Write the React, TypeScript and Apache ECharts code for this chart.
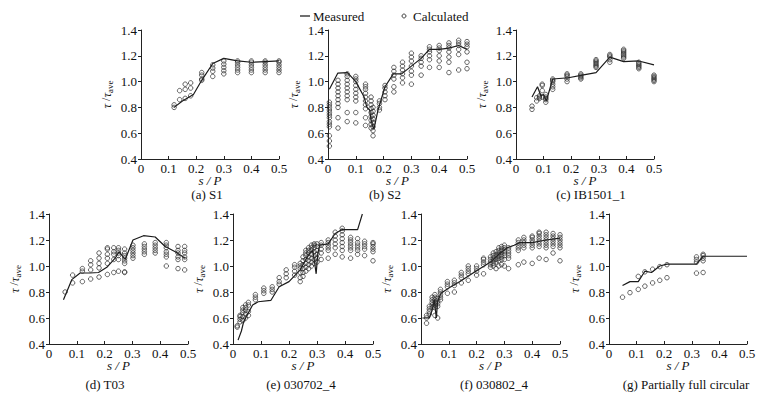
import React, { useEffect, useRef } from "react";
import * as echarts from "echarts";

const FONT = "'Liberation Serif', 'Times New Roman', serif";

// x tick labels 0..0.5, y tick labels 0.4..1.4
const xTicks = [0, 0.1, 0.2, 0.3, 0.4, 0.5];
const yTicks = [0.4, 0.6, 0.8, 1.0, 1.2, 1.4];

const panelTitles = [
  "(a) S1",
  "(b) S2",
  "(c) IB1501_1",
  "(d) T03",
  "(e) 030702_4",
  "(f) 030802_4",
  "(g) Partially full circular",
];

// Measured lines [s/P, tau/tau_ave]
const measA = [[0.12, 0.8], [0.15, 0.85], [0.19, 0.9], [0.22, 1.01], [0.26, 1.14], [0.3, 1.18], [0.35, 1.16], [0.4, 1.15], [0.45, 1.155], [0.5, 1.16]];
const measB = [[0.005, 0.94], [0.035, 1.065], [0.07, 1.07], [0.1, 1.0], [0.13, 0.88], [0.14, 0.8], [0.15, 0.78], [0.155, 0.7], [0.165, 0.63], [0.18, 0.78], [0.205, 0.96], [0.235, 1.06], [0.265, 1.06], [0.3, 1.12], [0.335, 1.18], [0.365, 1.25], [0.4, 1.25], [0.435, 1.26], [0.47, 1.28], [0.5, 1.25]];
const measC = [[0.058, 0.88], [0.078, 0.96], [0.09, 0.89], [0.1, 0.9], [0.11, 0.85], [0.133, 1.02], [0.19, 1.03], [0.24, 1.05], [0.29, 1.07], [0.34, 1.19], [0.39, 1.155], [0.445, 1.16], [0.5, 1.13]];
const measD = [[0.052, 0.74], [0.082, 0.895], [0.112, 0.946], [0.148, 0.946], [0.178, 0.95], [0.208, 0.99], [0.238, 1.06], [0.252, 1.11], [0.274, 1.05], [0.302, 1.2], [0.34, 1.233], [0.382, 1.223], [0.418, 1.15], [0.454, 1.11], [0.49, 1.06]];
const measE = [[0.018, 0.43], [0.03, 0.5], [0.038, 0.57], [0.05, 0.62], [0.07, 0.7], [0.09, 0.725], [0.135, 0.735], [0.165, 0.84], [0.2, 0.88], [0.24, 0.97], [0.26, 1.05], [0.275, 1.1], [0.285, 1.12], [0.29, 1.05], [0.297, 0.94], [0.303, 1.1], [0.31, 1.16], [0.34, 1.17], [0.365, 1.25], [0.39, 1.28], [0.445, 1.28], [0.462, 1.4]];
const measF = [[0.005, 0.6], [0.03, 0.6], [0.04, 0.66], [0.048, 0.74], [0.055, 0.6], [0.06, 0.73], [0.072, 0.79], [0.1, 0.83], [0.14, 0.88], [0.19, 0.95], [0.25, 1.03], [0.28, 1.09], [0.31, 1.14], [0.335, 1.16], [0.355, 1.18], [0.4, 1.18], [0.45, 1.2], [0.5, 1.215]];
const measG = [[0.049, 0.85], [0.076, 0.88], [0.106, 0.88], [0.13, 0.96], [0.154, 0.95], [0.184, 1.0], [0.21, 1.015], [0.317, 1.015], [0.341, 1.075], [0.5, 1.075]];

// Calculated points, as columns [s/P, [tau/tau_ave ...]]
const calcA = [
  [0.12, [0.8, 0.82]], [0.14, [0.86, 0.93]], [0.16, [0.87, 0.94, 0.98]], [0.18, [0.89, 0.95, 0.99]],
  [0.22, [1.01, 1.02, 1.05, 1.07]], [0.26, [1.04, 1.08, 1.105, 1.13]], [0.3, [1.06, 1.085, 1.11, 1.135, 1.16]],
  [0.35, [1.07, 1.09, 1.11, 1.13, 1.15, 1.16]], [0.4, [1.07, 1.09, 1.11, 1.13, 1.15, 1.16]],
  [0.45, [1.07, 1.09, 1.11, 1.13, 1.15, 1.16]], [0.5, [1.07, 1.09, 1.11, 1.13, 1.15, 1.16]],
];
const calcB = [
  [0.005, [0.5, 0.54, 0.58, 0.65, 0.67, 0.69, 0.72, 0.74, 0.76, 0.78, 0.8, 0.82, 0.84]],
  [0.036, [0.64, 0.72, 0.8, 0.83, 0.86, 0.89, 0.92, 0.95, 0.98, 1.01]],
  [0.069, [0.69, 0.76, 0.86, 0.89, 0.92, 0.95, 0.98, 1.01, 1.04, 1.06]],
  [0.1, [0.68, 0.76, 0.85, 0.88, 0.91, 0.94, 0.97, 1.0, 1.02, 1.04]],
  [0.135, [0.66, 0.72, 0.79, 0.82, 0.85, 0.88, 0.91, 0.94, 0.96, 0.98]],
  [0.155, [0.64, 0.67, 0.7, 0.73, 0.76, 0.79, 0.82, 0.85, 0.88]],
  [0.162, [0.58, 0.62, 0.65, 0.68, 0.71, 0.74, 0.77, 0.8]],
  [0.185, [0.78, 0.8, 0.83, 0.85]],
  [0.205, [0.86, 0.89, 0.92, 0.95, 0.97]],
  [0.237, [0.92, 0.96, 1.02, 1.05, 1.08, 1.11]],
  [0.268, [0.99, 1.03, 1.06, 1.09, 1.12, 1.15]],
  [0.3, [0.98, 1.05, 1.08, 1.12, 1.16, 1.19, 1.22]],
  [0.335, [1.05, 1.12, 1.15, 1.18, 1.2]],
  [0.365, [1.11, 1.17, 1.2, 1.23, 1.25, 1.27]],
  [0.4, [1.11, 1.16, 1.2, 1.24, 1.26, 1.28]],
  [0.435, [1.07, 1.15, 1.19, 1.23, 1.26, 1.28, 1.3]],
  [0.47, [1.09, 1.21, 1.25, 1.28, 1.3, 1.32]],
  [0.5, [1.1, 1.15, 1.23, 1.27, 1.29, 1.31]],
];
const calcC = [
  [0.058, [0.785, 0.81]], [0.075, [0.85, 0.875]], [0.085, [0.87, 0.88, 0.89]], [0.095, [0.88, 0.93, 0.97, 0.98]],
  [0.108, [0.84, 0.86, 0.87, 0.88, 0.9]], [0.133, [0.94, 0.96, 0.98, 1.0, 1.01, 1.02]],
  [0.185, [1.0, 1.02, 1.04, 1.05, 1.06]], [0.235, [1.02, 1.03, 1.04, 1.05, 1.06]],
  [0.29, [1.11, 1.12, 1.13, 1.14, 1.15, 1.16, 1.17]], [0.34, [1.15, 1.17, 1.19, 1.2, 1.21]],
  [0.39, [1.18, 1.19, 1.2, 1.21, 1.22, 1.23, 1.24, 1.25]], [0.445, [1.1, 1.11, 1.12, 1.13, 1.14, 1.15]],
  [0.5, [1.0, 1.01, 1.02, 1.03, 1.04, 1.05]],
];
const calcD = [
  [0.058, [0.8]], [0.085, [0.87, 0.93]], [0.12, [0.88, 0.96, 0.98]], [0.15, [0.9, 0.97, 1.01, 1.04]],
  [0.18, [0.915, 0.985, 1.02, 1.06, 1.1]], [0.21, [0.935, 1.02, 1.06, 1.09, 1.13, 1.14]],
  [0.233, [0.95, 1.05, 1.09, 1.11, 1.14]], [0.25, [0.96, 1.05, 1.08, 1.1, 1.12, 1.14]],
  [0.272, [0.95, 0.955, 1.02, 1.04, 1.06, 1.08, 1.1, 1.13]], [0.302, [1.06, 1.08, 1.1, 1.12, 1.14, 1.16]],
  [0.343, [1.09, 1.11, 1.13, 1.15, 1.17]], [0.382, [1.1, 1.12, 1.14, 1.16, 1.18]],
  [0.422, [1.0, 1.07, 1.09, 1.11, 1.14, 1.16, 1.18]], [0.464, [0.98, 1.05, 1.07, 1.1, 1.12, 1.15]],
  [0.488, [0.97, 1.05, 1.07, 1.1, 1.12, 1.15]],
];
const calcE = [
  [0.015, [0.53, 0.54]], [0.025, [0.57, 0.59, 0.61, 0.62]], [0.035, [0.58, 0.61, 0.64, 0.66, 0.68]],
  [0.045, [0.6, 0.63, 0.66, 0.68, 0.7]], [0.055, [0.62, 0.65, 0.7, 0.72]], [0.08, [0.74, 0.76, 0.78]],
  [0.11, [0.79, 0.81, 0.83]], [0.14, [0.8, 0.82, 0.84]], [0.165, [0.86, 0.88, 0.91]], [0.19, [0.91, 0.94, 0.97]],
  [0.22, [0.93, 0.96, 0.99, 1.01]], [0.24, [0.88, 0.91, 0.95, 0.98, 1.0, 1.02]],
  [0.25, [0.92, 0.95, 0.98, 1.01, 1.04, 1.07]], [0.26, [0.96, 0.99, 1.02, 1.05, 1.08, 1.1, 1.12]],
  [0.27, [0.98, 1.01, 1.04, 1.07, 1.1, 1.12, 1.14]], [0.28, [1.0, 1.03, 1.06, 1.09, 1.12, 1.14, 1.16]],
  [0.29, [1.02, 1.05, 1.08, 1.11, 1.14, 1.16, 1.17]], [0.3, [1.03, 1.06, 1.09, 1.12, 1.15, 1.17]],
  [0.315, [1.05, 1.1, 1.13, 1.16, 1.18]], [0.34, [1.06, 1.12, 1.14, 1.16, 1.18, 1.2]],
  [0.365, [1.09, 1.14, 1.17, 1.2, 1.23, 1.26]], [0.39, [1.07, 1.12, 1.15, 1.18, 1.21, 1.24, 1.27, 1.29]],
  [0.42, [1.06, 1.12, 1.14, 1.16, 1.18, 1.2, 1.22]], [0.445, [1.09, 1.12, 1.14, 1.16, 1.18, 1.21]],
  [0.47, [1.08, 1.13, 1.15, 1.17, 1.19]], [0.5, [1.04, 1.11, 1.13, 1.15, 1.17, 1.18]],
];
const calcF = [
  [0.02, [0.56, 0.6, 0.62]], [0.03, [0.63, 0.65, 0.67, 0.69]], [0.04, [0.68, 0.7, 0.72, 0.74, 0.76]],
  [0.05, [0.62, 0.68, 0.7, 0.72, 0.74, 0.76, 0.78]], [0.06, [0.6, 0.69, 0.71, 0.73, 0.75]],
  [0.07, [0.74, 0.76, 0.78, 0.8, 0.82]], [0.095, [0.79, 0.84, 0.86, 0.88]], [0.12, [0.8, 0.85, 0.87, 0.89]],
  [0.145, [0.87, 0.91, 0.93, 0.95]], [0.17, [0.89, 0.94, 0.96, 0.98, 1.0]], [0.2, [0.93, 0.96, 0.98, 1.0]],
  [0.225, [0.94, 1.01, 1.03, 1.05, 1.06]], [0.25, [0.99, 1.01, 1.03, 1.05, 1.07]],
  [0.26, [1.0, 1.02, 1.04, 1.06, 1.08, 1.1]], [0.27, [0.98, 1.03, 1.05, 1.07, 1.09, 1.11]],
  [0.28, [1.0, 1.04, 1.06, 1.08, 1.1, 1.12, 1.14]], [0.29, [1.01, 1.05, 1.07, 1.09, 1.11, 1.13, 1.15]],
  [0.3, [1.0, 1.05, 1.08, 1.1, 1.12, 1.14, 1.16]], [0.315, [0.98, 1.06, 1.08, 1.1, 1.12, 1.14]],
  [0.35, [1.01, 1.12, 1.14, 1.16, 1.18, 1.2]], [0.37, [1.03, 1.14, 1.16, 1.18, 1.2, 1.22]],
  [0.4, [1.02, 1.14, 1.16, 1.18, 1.2, 1.22, 1.23]], [0.425, [1.06, 1.15, 1.17, 1.19, 1.21, 1.23, 1.25, 1.26]],
  [0.45, [1.05, 1.14, 1.16, 1.18, 1.2, 1.22, 1.24, 1.26]], [0.475, [1.1, 1.15, 1.17, 1.19, 1.21, 1.23, 1.25]],
  [0.5, [1.04, 1.14, 1.16, 1.18, 1.2, 1.22, 1.24]],
];
const calcG = [
  [0.049, [0.76]], [0.076, [0.795]], [0.106, [0.82, 0.92]], [0.13, [0.845, 0.955]], [0.158, [0.87, 0.975]],
  [0.184, [0.89, 0.995]], [0.21, [0.91, 1.01]], [0.317, [0.945, 1.03, 1.05, 1.07]], [0.341, [0.95, 1.04, 1.06, 1.08, 1.09]],
];

const measuredSets = [measA, measB, measC, measD, measE, measF, measG];
const calculatedSets = [calcA, calcB, calcC, calcD, calcE, calcF, calcG];

// Layout of the seven panels (pixels)
const layout = [
  { left: 141, top: 30, width: 138, height: 129, titleX: 207, titleY: 194 },
  { left: 328, top: 30, width: 139, height: 129, titleX: 385, titleY: 194 },
  { left: 516, top: 30, width: 138, height: 129, titleX: 591, titleY: 194 },
  { left: 49, top: 214, width: 139, height: 130, titleX: 105, titleY: 384 },
  { left: 233, top: 214, width: 140, height: 130, titleX: 301, titleY: 384 },
  { left: 421, top: 214, width: 139, height: 130, titleX: 494, titleY: 384 },
  { left: 609, top: 214, width: 138, height: 130, titleX: 686, titleY: 384 },
];

const flatten = (cols: any[]) => {
  const out: number[][] = [];
  cols.forEach(([x, ys]: [number, number[]]) => ys.forEach((y) => out.push([x, y])));
  return out;
};

export default function App() {
  const ref = useRef<HTMLDivElement>(null);
  useEffect(() => {
    if (!ref.current) return;
    const chart = echarts.init(ref.current, null, { renderer: "svg" });
    const axisColor = "#222";
    const grid = layout.map((l) => ({ left: l.left, top: l.top, width: l.width, height: l.height, containLabel: false }));
    const xAxis = layout.map((_, i) => ({
      type: "value",
      gridIndex: i,
      min: xTicks[0],
      max: xTicks[xTicks.length - 1],
      interval: 0.1,
      splitLine: { show: false },
      axisLine: { show: true, lineStyle: { color: axisColor, width: 1 } },
      axisTick: { show: true, inside: true, length: 3, lineStyle: { color: axisColor } },
      axisLabel: {
        margin: 3,
        color: "#111",
        fontFamily: FONT,
        fontSize: 13,
        lineHeight: 12,
        formatter: (v: number) => (Math.abs(v) < 1e-9 ? "0" : v.toFixed(1)),
      },
      name: "s / P",
      nameLocation: "middle",
      nameGap: 15,
      nameMoveOverlap: false,
      nameTextStyle: { fontFamily: FONT, fontSize: 13, fontStyle: "italic", color: "#111", lineHeight: 12 },
    }));
    const yAxis = layout.map((_, i) => ({
      type: "value",
      gridIndex: i,
      min: yTicks[0],
      max: yTicks[yTicks.length - 1],
      interval: 0.2,
      splitLine: { show: false },
      axisLine: { show: true, lineStyle: { color: axisColor, width: 1 } },
      axisTick: { show: true, inside: false, length: 3, lineStyle: { color: axisColor } },
      axisLabel: {
        margin: 4,
        color: "#111",
        fontFamily: FONT,
        fontSize: 13,
        formatter: (v: number) => v.toFixed(1),
      },
      name: "{i|τ} /{i|τ}{s|ave}",
      nameLocation: "middle",
      nameGap: 27,
      nameMoveOverlap: false,
      nameTextStyle: {
        fontFamily: FONT,
        color: "#111",
        rich: {
          i: { fontFamily: FONT, fontSize: 13, fontStyle: "italic", lineHeight: 16 },
          s: { fontFamily: FONT, fontSize: 9, verticalAlign: "bottom", lineHeight: 10 },
        },
      },
    }));
    const series: any[] = [];
    layout.forEach((_, i) => {
      series.push({
        name: "Measured",
        type: "line",
        xAxisIndex: i,
        yAxisIndex: i,
        data: measuredSets[i],
        symbol: "none",
        lineStyle: { color: "#1a1a1a", width: 1.2 },
        z: 2,
      });
      series.push({
        name: "Calculated",
        type: "scatter",
        xAxisIndex: i,
        yAxisIndex: i,
        data: flatten(calculatedSets[i]),
        symbol: "circle",
        symbolSize: 4.5,
        itemStyle: { color: "rgba(255,255,255,0)", borderColor: "#2a2a2a", borderWidth: 0.9 },
        z: 3,
      });
    });
    const graphic: any[] = [
      { type: "line", shape: { x1: 300, y1: 16, x2: 310, y2: 16 }, style: { stroke: "#111", lineWidth: 1.2 } },
      { type: "text", x: 313, y: 16, style: { text: "Measured", fontFamily: FONT, fontSize: 13, fill: "#111", textVerticalAlign: "middle" } },
      { type: "circle", shape: { cx: 404, cy: 16, r: 2 }, style: { fill: "none", stroke: "#333", lineWidth: 0.9 } },
      { type: "text", x: 413, y: 16, style: { text: "Calculated", fontFamily: FONT, fontSize: 13, fill: "#111", textVerticalAlign: "middle" } },
      ...layout.map((l, i) => ({
        type: "text",
        x: l.titleX,
        y: l.titleY,
        style: { text: panelTitles[i], fontFamily: FONT, fontSize: 13, fill: "#111", textAlign: "center", textVerticalAlign: "middle" },
      })),
    ];
    chart.setOption({
      animation: false,
      backgroundColor: "#fff",
      grid,
      xAxis,
      yAxis,
      series,
      graphic,
    });
    return () => chart.dispose();
  }, []);
  return <div ref={ref} style={{ position: "absolute", left: 0, top: 0, width: 773, height: 394 }} />;
}
